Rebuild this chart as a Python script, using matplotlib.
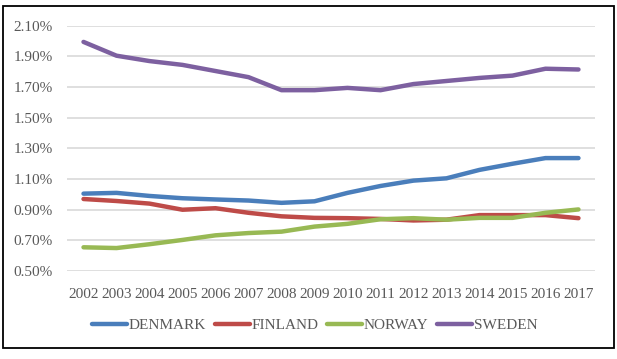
import matplotlib.pyplot as plt
from matplotlib.patches import Rectangle
from matplotlib.ticker import FuncFormatter

plt.rcParams["font.family"] = ["Liberation Serif", "DejaVu Serif"]

# values (% of GDP)
years = [str(y) for y in range(2002, 2018)]
denmark = [1.005, 1.01, 0.99, 0.975, 0.967, 0.96, 0.945, 0.955, 1.01, 1.055, 1.09, 1.105,
           1.16, 1.20, 1.237, 1.237]
finland = [0.97, 0.957, 0.94, 0.90, 0.91, 0.88, 0.857, 0.847, 0.845, 0.84, 0.83, 0.835,
           0.865, 0.865, 0.865, 0.845]
norway = [0.655, 0.65, 0.675, 0.703, 0.733, 0.748, 0.757, 0.79, 0.808, 0.838, 0.845, 0.835,
          0.847, 0.847, 0.88, 0.902]
sweden = [1.995, 1.905, 1.87, 1.845, 1.805, 1.765, 1.68, 1.68, 1.695, 1.68, 1.72, 1.74,
          1.76, 1.775, 1.82, 1.815]

series = [("DENMARK", denmark, "#4a7ebb"),
          ("FINLAND", finland, "#be4b48"),
          ("NORWAY", norway, "#98b954"),
          ("SWEDEN", sweden, "#7d60a0")]

text_col = "#595959"

fig = plt.figure(figsize=(6.17, 3.59), dpi=100)
ax = fig.add_axes([0.1086, 0.245, 0.8557, 0.6831])

x = range(len(years))
for name, vals, col in series:
    ax.plot(x, vals, color=col, lw=3.2, label=name, solid_capstyle="round")

ax.set_xlim(-0.5, len(years) - 0.5)
ax.set_ylim(0.5, 2.1)
ax.set_yticks([0.5, 0.7, 0.9, 1.1, 1.3, 1.5, 1.7, 1.9, 2.1])
ax.yaxis.set_major_formatter(FuncFormatter(lambda v, p: f"{v:.2f}%"))
ax.set_xticks(list(x))
ax.set_xticklabels(years)
ax.tick_params(axis="both", length=0, labelsize=11, labelcolor=text_col)
ax.tick_params(axis="y", pad=10)
ax.tick_params(axis="x", pad=12)
ax.grid(axis="y", color="#d9d9d9", lw=1.2)
ax.set_axisbelow(True)
for s in ax.spines.values():
    s.set_visible(False)

leg = fig.legend(loc="center", bbox_to_anchor=(0.51, 0.093), ncol=4, frameon=False,
                 fontsize=11, handlelength=2.3, columnspacing=0.55, handletextpad=0.12)
for t in leg.get_texts():
    t.set_color(text_col)

# outer chart border
fig.patches.append(Rectangle((3 / 617, 1 - 348 / 359), 611 / 617, 342 / 359,
                             transform=fig.transFigure, fill=False, ec="black", lw=1.3))

fig.savefig("out.png", dpi=100)
